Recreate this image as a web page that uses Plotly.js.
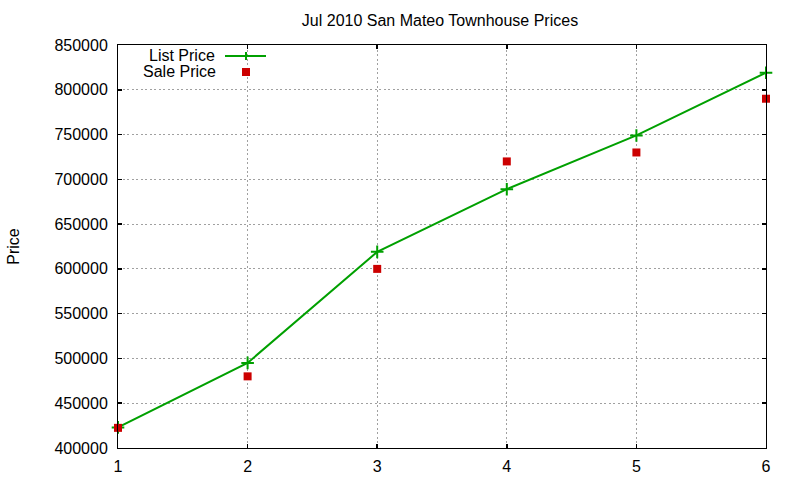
<!DOCTYPE html>
<html>
<head>
<meta charset="utf-8">
<script src="https://cdn.plot.ly/plotly-3.0.1.min.js"></script>
<style>
  body { margin: 0; background: #fff; }
  #chart { width: 800px; height: 480px; }
</style>
</head>
<body>
<div id="chart"></div>
<script>
// data
var months = [1, 2, 3, 4, 5, 6];
var listPrice = [423000, 495000, 619000, 689000, 749000, 819000];
var salePrice = [422500, 480000, 600000, 720000, 730000, 790000];
var yTicks = [400000, 450000, 500000, 550000, 600000, 650000, 700000, 750000, 800000, 850000];

var green = '#00a000';
var red = '#cc0000';
var font = 'Liberation Sans, Arial, sans-serif';

var listTrace = {
  x: months,
  y: listPrice,
  type: 'scatter',
  mode: 'lines+markers',
  name: 'List Price',
  line: {color: green, width: 2},
  marker: {symbol: 'cross-thin', size: 9, line: {color: green, width: 2}},
  cliponaxis: false
};
var saleTrace = {
  x: months,
  y: salePrice,
  type: 'scatter',
  mode: 'markers',
  name: 'Sale Price',
  marker: {symbol: 'square', size: 8, color: red},
  cliponaxis: false
};

// hand-made key, gnuplot style: text on the left, sample on the right
var px = function (p) { return (p - 118) / 648; };
var py = function (p) { return (448 - p) / 403; };

var shapes = [
  {type: 'line', xref: 'paper', yref: 'paper', x0: px(225), x1: px(266), y0: py(56), y1: py(56),
   line: {color: green, width: 2}},
  {type: 'line', xref: 'paper', yref: 'paper', x0: px(246), x1: px(246), y0: py(52), y1: py(60),
   line: {color: green, width: 2}},
  {type: 'rect', xref: 'paper', yref: 'paper', x0: px(242), x1: px(250), y0: py(68), y1: py(76),
   fillcolor: red, line: {width: 0}}
];

var annotations = [
  {text: 'List Price', xref: 'paper', yref: 'paper', x: px(217), y: py(55),
   xanchor: 'right', yanchor: 'middle', showarrow: false, font: {family: font, size: 16, color: '#000'}},
  {text: 'Sale Price', xref: 'paper', yref: 'paper', x: px(218), y: py(71),
   xanchor: 'right', yanchor: 'middle', showarrow: false, font: {family: font, size: 16, color: '#000'}}
];

var layout = {
  width: 800,
  height: 480,
  margin: {l: 118, r: 34, t: 45, b: 32},
  paper_bgcolor: '#fff',
  plot_bgcolor: '#fff',
  showlegend: false,
  font: {family: font, size: 16, color: '#000'},
  title: {
    text: 'Jul 2010 San Mateo Townhouse Prices',
    x: 0.55, xanchor: 'center',
    y: 1 - 20 / 480, yanchor: 'middle',
    font: {family: font, size: 16, color: '#000'}
  },
  xaxis: {
    range: [1, 6],
    tickvals: months,
    ticks: 'inside',
    ticklen: 4,
    tickwidth: 1.5,
    tickcolor: '#000',
    showline: true,
    linecolor: '#000',
    linewidth: 1,
    mirror: 'ticks',
    showgrid: true,
    gridcolor: '#a0a0a0',
    griddash: '2px,2.5px',
    gridwidth: 1,
    zeroline: false,
    ticklabelstandoff: 4
  },
  yaxis: {
    range: [400000, 850000],
    tickvals: yTicks,
    ticktext: yTicks.map(String),
    ticks: 'inside',
    ticklen: 4,
    tickwidth: 1.5,
    tickcolor: '#000',
    showline: true,
    linecolor: '#000',
    linewidth: 1,
    mirror: 'ticks',
    showgrid: true,
    gridcolor: '#a0a0a0',
    griddash: '2px,2.5px',
    gridwidth: 1,
    zeroline: false,
    ticklabelstandoff: 6,
    title: {text: 'Price', standoff: 30, font: {family: font, size: 16, color: '#000'}}
  },
  shapes: shapes,
  annotations: annotations
};

Plotly.newPlot('chart', [listTrace, saleTrace], layout, {displayModeBar: false, staticPlot: true});
</script>
</body>
</html>
